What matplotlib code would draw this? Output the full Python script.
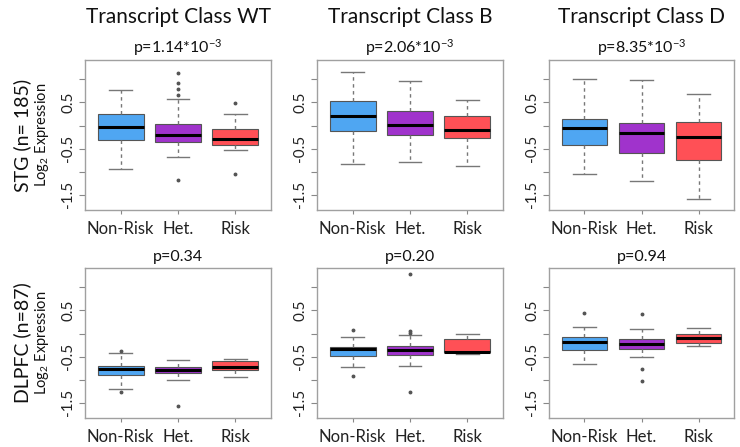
import matplotlib
matplotlib.use("Agg")
import matplotlib.pyplot as plt

plt.rcParams['font.family'] = ['Lato', 'DejaVu Sans']
plt.rcParams['mathtext.default'] = 'regular'

groups = ["Non-Risk", "Het.", "Risk"]
titles = ["Transcript Class WT", "Transcript Class B", "Transcript Class D"]
row_labels = ["STG (n= 185)", "DLPFC (n=87)"]
pvals_stg = ["p=1.14*10$^{-3}$", "p=2.06*10$^{-3}$", "p=8.35*10$^{-3}$"]
pvals_dlpfc = ["p=0.34", "p=0.20", "p=0.94"]
colors = ["#4FA6F2", "#A033CC", "#FF5056"]

# [whislo, q1, med, q3, whishi] per group
stg_wt = [[-0.95, -0.32, -0.04, 0.26, 0.77],
          [-0.68, -0.35, -0.20, 0.04, 0.58],
          [-0.52, -0.43, -0.29, -0.07, 0.24]]
stg_wt_fliers = [[], [1.13, 0.93, 0.80, 0.67, -1.17], [0.49, -1.05]]

stg_b = [[-0.84, -0.12, 0.20, 0.54, 1.16],
         [-0.80, -0.21, 0.01, 0.32, 0.97],
         [-0.87, -0.28, -0.09, 0.20, 0.56]]
stg_b_fliers = [[], [], []]

stg_d = [[-1.04, -0.43, -0.06, 0.15, 1.01],
         [-1.20, -0.59, -0.17, 0.06, 0.98],
         [-1.60, -0.74, -0.25, 0.08, 0.68]]
stg_d_fliers = [[], [], []]

dlpfc_wt = [[-1.21, -0.90, -0.77, -0.70, -0.43],
            [-1.01, -0.86, -0.78, -0.72, -0.57],
            [-0.94, -0.78, -0.73, -0.60, -0.55]]
dlpfc_wt_fliers = [[-0.37, -1.27], [-1.58], []]

dlpfc_b = [[-0.73, -0.49, -0.33, -0.29, -0.07],
           [-0.71, -0.46, -0.36, -0.28, -0.03],
           [-0.45, -0.41, -0.39, -0.12, -0.01]]
dlpfc_b_fliers = [[0.07, -0.92], [1.30, 0.05, 0.01, -1.26], []]

dlpfc_d = [[-0.67, -0.36, -0.19, -0.08, 0.15],
           [-0.50, -0.34, -0.23, -0.12, 0.09],
           [-0.27, -0.21, -0.09, 0.00, 0.11]]
dlpfc_d_fliers = [[0.45], [0.43, -0.77, -1.02], []]

yticks = [-1.5, -1.0, -0.5, 0.0, 0.5, 1.0]
ytick_labels = ["-1.5", "", "-0.5", "", "0.5", ""]

panels = [[(stg_wt, stg_wt_fliers), (stg_b, stg_b_fliers), (stg_d, stg_d_fliers)],
          [(dlpfc_wt, dlpfc_wt_fliers), (dlpfc_b, dlpfc_b_fliers), (dlpfc_d, dlpfc_d_fliers)]]
pvals = [pvals_stg, pvals_dlpfc]

W, H = 740, 447
fig = plt.figure(figsize=(W / 100, H / 100), dpi=100)

lefts = [85, 317, 549]
widths = [186, 186, 185]
row_top = [60, 268]
row_bot = [210, 418]
p_base = [53, 261]

for r in range(2):
    for c in range(3):
        q, fl = panels[r][c]
        ax = fig.add_axes([lefts[c] / W, 1 - row_bot[r] / H, widths[c] / W,
                           (row_bot[r] - row_top[r]) / H])
        stats = []
        for g in range(3):
            wl, q1, md, q3, wh = q[g]
            stats.append(dict(whislo=wl, q1=q1, med=md, q3=q3, whishi=wh,
                              fliers=fl[g], label=groups[g]))
        bp = ax.bxp(stats, positions=[1, 2, 3], widths=0.8, patch_artist=True,
                    showfliers=True,
                    boxprops=dict(linewidth=0.8, edgecolor="#555555"),
                    medianprops=dict(color="black", linewidth=2.2),
                    whiskerprops=dict(color="#777777", linewidth=1.0,
                                      linestyle=(0, (2.5, 2.5))),
                    capprops=dict(color="#777777", linewidth=1.0),
                    flierprops=dict(marker="o", markersize=1.8,
                                    markerfacecolor="#555555",
                                    markeredgecolor="#555555"))
        for patch, col in zip(bp["boxes"], colors):
            patch.set_facecolor(col)
        for cap in bp["caps"]:
            x0, x1 = cap.get_xdata()
            xm = (x0 + x1) / 2
            cap.set_xdata([xm - 0.2, xm + 0.2])
        ax.set_xlim(0.38, 3.62)
        ax.set_ylim(-1.83, 1.42)
        ax.set_yticks(yticks)
        ax.set_yticklabels(ytick_labels, rotation=90, va="center",
                           fontsize=11, color="#222222")
        ax.set_xticks([1, 2, 3])
        ax.set_xticklabels(groups, fontsize=12, color="#222222")
        ax.tick_params(axis="y", length=4, width=0.8, color="#888888", pad=3)
        ax.tick_params(axis="x", length=3, width=0.8, color="#888888", pad=5)
        for s in ax.spines.values():
            s.set_color("#A0A0A0")
            s.set_linewidth(1.0)
        cx = (lefts[c] + widths[c] / 2) / W
        if r == 0:
            fig.text(cx, 1 - 23 / H, titles[c], ha="center", va="baseline",
                     fontsize=15, color="#111111")
        fig.text(cx, 1 - p_base[r] / H, pvals[r][c], ha="center",
                 va="baseline", fontsize=11.5, color="#111111")

for r in range(2):
    cy = 1 - (row_top[r] + row_bot[r]) / 2 / H
    fig.text(22 / W, cy, row_labels[r], rotation=90, ha="center", va="center",
             fontsize=14, color="#111111")
    fig.text(42 / W, cy, "Log$_2$ Expression", rotation=90, ha="center",
             va="center", fontsize=10.5, color="#111111")

fig.savefig("out.png", dpi=100)
